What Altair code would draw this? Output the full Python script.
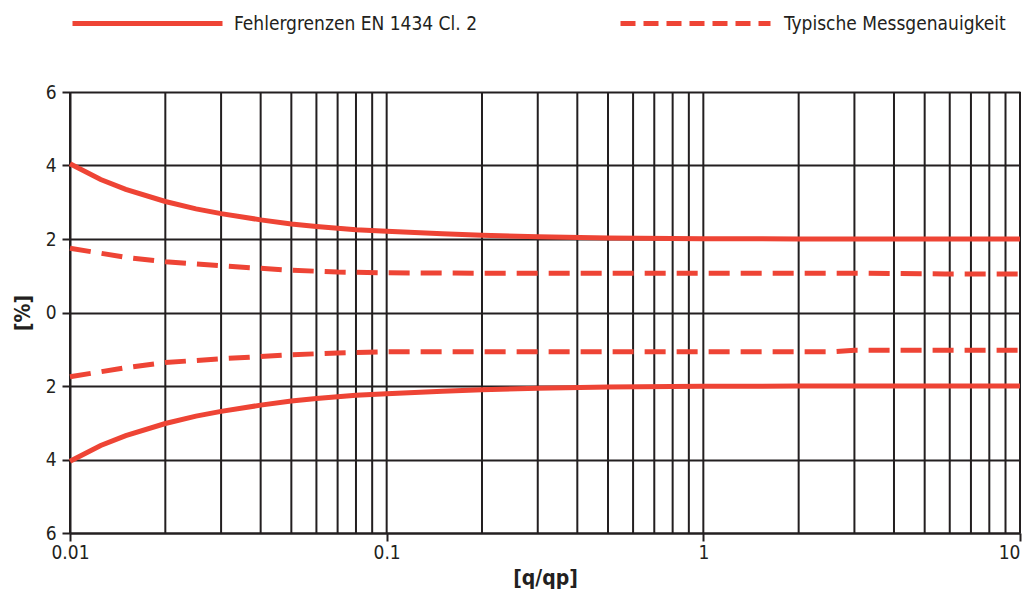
import altair as alt
import pandas as pd

RED = "#EE4435"
INK = "#231F20"
FONT = "DejaVu Sans Condensed, sans-serif"

# Fehlergrenzen EN 1434 Cl. 2
q_solid = [0.01, 0.0125, 0.015, 0.02, 0.025, 0.03, 0.04, 0.05, 0.06, 0.07, 0.08, 0.1, 0.15, 0.2, 0.3, 0.5, 1, 2, 5, 10]
solid_upper = [4.05, 3.62, 3.35, 3.02, 2.82, 2.69, 2.52, 2.41, 2.34, 2.29, 2.25, 2.21, 2.14, 2.1, 2.06, 2.03, 2.01, 2.0, 2.0, 2.0]
solid_lower = [-4.05, -3.62, -3.35, -3.02, -2.82, -2.69, -2.52, -2.41, -2.34, -2.29, -2.25, -2.21, -2.14, -2.1, -2.06, -2.03, -2.01, -2.0, -2.0, -2.0]

# Typische Messgenauigkeit
q_dash = [0.01, 0.015, 0.02, 0.03, 0.05, 0.07, 0.1, 0.2, 0.5, 1, 2.5, 3, 5.8, 10]
dash_upper = [1.75, 1.5, 1.38, 1.27, 1.15, 1.1, 1.08, 1.07, 1.07, 1.07, 1.07, 1.07, 1.05, 1.05]
dash_lower = [-1.75, -1.5, -1.36, -1.26, -1.15, -1.1, -1.07, -1.07, -1.07, -1.07, -1.07, -1.03, -1.03, -1.03]

grid_x = [0.01, 0.02, 0.03, 0.04, 0.05, 0.06, 0.07, 0.08, 0.09,
          0.1, 0.2, 0.3, 0.4, 0.5, 0.6, 0.7, 0.8, 0.9,
          1, 2, 3, 4, 5, 6, 7, 8, 9, 10]
x_labels = [0.01, 0.1, 1, 10]
y_ticks = [-6, -4, -2, 0, 2, 4, 6]

LEG1 = "Fehlergrenzen EN 1434 Cl. 2"
LEG2 = "Typische Messgenauigkeit"

rows = []
for q, v in zip(q_solid, solid_upper):
    rows.append({"q": q, "v": v, "side": "o", "leg1": LEG1})
for q, v in zip(q_solid, solid_lower):
    rows.append({"q": q, "v": v, "side": "u", "leg1": LEG1})
solid_df = pd.DataFrame(rows)

rows = []
for q, v in zip(q_dash, dash_upper):
    rows.append({"q": q, "v": v, "side": "o", "leg2": LEG2})
for q, v in zip(q_dash, dash_lower):
    rows.append({"q": q, "v": v, "side": "u", "leg2": LEG2})
dash_df = pd.DataFrame(rows)

grid_df = pd.DataFrame({"q": grid_x})

xscale = alt.Scale(type="log", domain=[0.01, 10], nice=False)
yscale = alt.Scale(domain=[-6, 6], nice=False, zero=False)

xaxis = alt.Axis(values=x_labels, grid=False, title="[q/qp]", labelExpr="datum.value",
                 labelAlign={"condition": {"test": "datum.value >= 10", "value": "right"}, "value": "center"},
                 tickSize=8, tickWidth=2, tickColor=INK, domainColor=INK, domainWidth=2,
                 labelFontSize=19, labelColor=INK, labelPadding=2,
                 titleFontSize=21, titleFontWeight="bold", titleColor=INK, titlePadding=5)
yaxis = alt.Axis(values=y_ticks, grid=True, gridColor=INK, gridWidth=2, gridOpacity=1,
                 title="[%]", labelExpr="abs(datum.value)",
                 tickSize=8, tickWidth=2, tickColor=INK, domainColor=INK, domainWidth=2,
                 labelFontSize=19, labelColor=INK, labelPadding=6,
                 titleFontSize=21, titleFontWeight="bold", titleColor=INK, titlePadding=12)

grid = alt.Chart(grid_df).mark_rule(color=INK, strokeWidth=2).encode(
    x=alt.X("q:Q", scale=xscale, axis=xaxis)
)

solid = alt.Chart(solid_df).mark_line(strokeWidth=5, strokeCap="butt").encode(
    x=alt.X("q:Q", scale=xscale),
    y=alt.Y("v:Q", scale=yscale, axis=yaxis),
    detail="side:N",
    color=alt.Color("leg1:N", scale=alt.Scale(domain=[LEG1], range=[RED]),
                    legend=alt.Legend(orient="none", legendX=0, legendY=-146, title=None,
                                      symbolType="stroke", symbolSize=22500, symbolStrokeWidth=5,
                                      labelFontSize=19, labelColor=INK, labelOffset=9,
                                      labelLimit=400, padding=0)),
)

dashed = alt.Chart(dash_df).mark_line(strokeWidth=5, strokeDash=[21, 11], color=RED, strokeCap="butt").encode(
    x=alt.X("q:Q", scale=xscale),
    y=alt.Y("v:Q", scale=yscale),
    detail="side:N",
    opacity=alt.Opacity("leg2:O", scale=alt.Scale(domain=[LEG2], range=[1]),
                        legend=alt.Legend(orient="none", legendX=548, legendY=-146, title=None,
                                          symbolType="stroke", symbolSize=22500, symbolStrokeWidth=5,
                                          symbolStrokeColor=RED, symbolDash=[15, 8],
                                          labelFontSize=19, labelColor=INK, labelOffset=11,
                                          labelLimit=400, padding=0)),
)

chart = alt.layer(grid, solid, dashed).properties(
    width=950, height=441,
    autosize=alt.AutoSizeParams(type="none"),
    padding={"left": 62, "top": 84, "right": 5, "bottom": 58},
).configure(font=FONT).configure_view(stroke=None)

chart.save("out.html", embed_options={"renderer": "svg", "actions": False})
